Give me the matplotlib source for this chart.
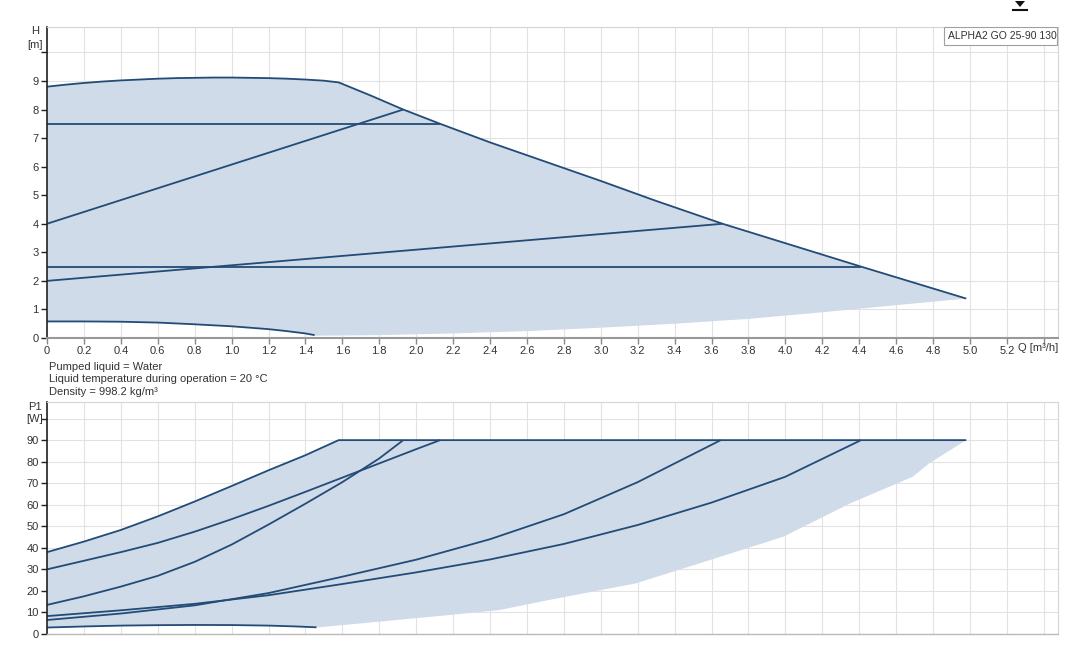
import matplotlib
matplotlib.use("Agg")
import matplotlib.pyplot as plt
from matplotlib.patches import Rectangle, Polygon
from matplotlib.lines import Line2D
import numpy as np

plt.rcParams['font.family'] = ['Liberation Sans', 'DejaVu Sans']

# ---- H [m] vs Q [m3/h] ----
q_hmax = [0, 0.1, 0.2, 0.3, 0.4, 0.5, 0.6, 0.7, 0.8, 0.9, 1.0, 1.1, 1.2, 1.3, 1.4, 1.5, 1.58,
          1.75, 1.93, 2.13, 2.4, 2.6, 2.8, 3.0, 3.3, 3.66, 4.0, 4.41, 4.7, 4.98]
h_max = [8.8, 8.87, 8.93, 8.98, 9.02, 9.05, 9.08, 9.1, 9.11, 9.12, 9.12, 9.11, 9.1, 9.08, 9.05,
         9.01, 8.95, 8.5, 8.0, 7.5, 6.85, 6.4, 5.95, 5.5, 4.8, 4.0, 3.32, 2.5, 1.93, 1.38]
q_hmin = [0, 0.2, 0.4, 0.6, 0.8, 1.0, 1.1, 1.2, 1.3, 1.4, 1.45]
h_min = [0.58, 0.58, 0.57, 0.54, 0.48, 0.41, 0.36, 0.31, 0.24, 0.16, 0.1]
q_hlow = [1.45, 1.8, 2.2, 2.6, 3.0, 3.4, 3.8, 4.2, 4.6, 4.98]
h_low = [0.08, 0.1, 0.16, 0.24, 0.36, 0.5, 0.67, 0.9, 1.15, 1.38]

q_cp75 = [0, 2.13]
h_cp75 = [7.5, 7.5]
q_pp4 = [0, 1.93]
h_pp4 = [4.0, 8.0]
q_pp2 = [0, 3.66]
h_pp2 = [2.0, 4.0]
q_cp25 = [0, 4.41]
h_cp25 = [2.5, 2.5]

# ---- P1 [W] vs Q ----
q_pmax = [0, 0.2, 0.4, 0.6, 0.8, 1.0, 1.2, 1.4, 1.58, 4.98]
p_max = [38, 42.9, 48.3, 54.6, 61.5, 68.7, 76, 83, 90, 90]
q_p75 = [0, 0.2, 0.4, 0.6, 0.8, 1.0, 1.2, 1.4, 1.6, 1.8, 2.0, 2.13]
p_p75 = [30, 34, 38, 42.3, 47.5, 53.3, 59.5, 66, 72.6, 79.2, 85.8, 90]
q_p4 = [0, 0.2, 0.4, 0.6, 0.8, 1.0, 1.2, 1.4, 1.6, 1.8, 1.93]
p_p4 = [13.5, 17.5, 22, 27, 33.5, 41.5, 50.8, 60.5, 70.5, 81.5, 90]
q_p25 = [0, 0.4, 0.8, 1.2, 1.6, 2.0, 2.4, 2.8, 3.2, 3.6, 4.0, 4.41]
p_p25 = [8.3, 11, 14, 18, 23.2, 28.6, 34.6, 41.8, 50.6, 61, 73, 90]
q_p2 = [0, 0.4, 0.8, 1.2, 1.6, 2.0, 2.4, 2.8, 3.2, 3.65]
p_p2 = [6.5, 9.5, 13.3, 19, 26.6, 34.5, 44, 55.6, 70.5, 90]
q_pmin = [0, 0.2, 0.4, 0.6, 0.8, 1.0, 1.2, 1.35, 1.46]
p_min = [3.0, 3.5, 3.9, 4.1, 4.2, 4.15, 3.9, 3.5, 3.1]
q_plow = [1.46, 2.18, 2.45, 2.72, 3.19, 3.59, 3.99, 4.35, 4.69, 4.78, 4.98]
p_low = [3.0, 8.8, 11.1, 15.8, 23.5, 34.3, 45.2, 60.6, 73, 79.3, 90]

q_ticks = np.arange(0, 5.41, 0.2)
q_labels = ['0' if i == 0 else '%.1f' % t for i, t in enumerate(q_ticks)]
q_labels[-1] = ''

line_c = '#234b77'
fill_c = '#cfdbe8'
grid_c = '#e2e2e2'
text_c = '#333333'

W, H = 1083, 653
fig = plt.figure(figsize=(W / 100, H / 100), dpi=100)
ax1 = fig.add_axes([47 / W, 1 - 338 / H, 1011 / W, 311 / H])
ax2 = fig.add_axes([47 / W, 1 - 634 / H, 1011 / W, 232 / H])


def style(ax, ymax, yticks):
    ax.set_xlim(0, 5.477)
    ax.set_ylim(0, ymax)
    ax.set_xticks(q_ticks)
    ax.set_yticks(yticks)
    ax.grid(True, color=grid_c, lw=0.8)
    ax.set_axisbelow(True)
    for s in ['top', 'right']:
        ax.spines[s].set_color('#d5d5d5')
        ax.spines[s].set_linewidth(0.8)
    ax.spines['left'].set_color('#222222')
    ax.spines['left'].set_linewidth(1.2)
    ax.tick_params(axis='y', length=4, width=1, color='#222222', labelsize=8, labelcolor=text_c, pad=2)
    ax.tick_params(axis='x', length=4, width=1, color='#888888', labelsize=8, labelcolor=text_c, pad=2)


# top chart
style(ax1, 10.89, range(0, 11))
ax1.spines['bottom'].set_color('#999999')
ax1.spines['bottom'].set_linewidth(1.5)
ax1.set_xticklabels(q_labels)
ax1.set_yticklabels([str(v) for v in range(10)] + [''])
ax1.fill(list(q_hmax) + q_hlow[::-1] + q_hmin[::-1], list(h_max) + h_low[::-1] + h_min[::-1],
         color=fill_c, lw=0)
for qq, hh in [(q_hmax, h_max), (q_hmin, h_min), (q_cp75, h_cp75), (q_pp4, h_pp4),
               (q_pp2, h_pp2), (q_cp25, h_cp25)]:
    ax1.plot(qq, hh, color=line_c, lw=1.3, solid_capstyle='butt')
ax1.text(5.26, -0.36, 'Q [m³/h]', ha='left', va='center', fontsize=8, color=text_c)
ax1.text(-0.0119, 10.75, 'H', transform=ax1.get_yaxis_transform(), ha='center', va='center',
         fontsize=8, color=text_c)
ax1.text(-0.0119, 10.26, '[m]', transform=ax1.get_yaxis_transform(), ha='center', va='center',
         fontsize=8, color=text_c)
ax1.add_patch(Rectangle((0.8872, 0.942), 0.1118, 0.058, transform=ax1.transAxes,
                        fc='white', ec='#a0a0a0', lw=0.8, zorder=5))
ax1.text(0.891, 0.971, 'ALPHA2 GO 25-90 130', transform=ax1.transAxes, ha='left', va='center',
         fontsize=7.5, color=text_c, zorder=6)

# bottom chart
style(ax2, 107.7, range(0, 101, 10))
ax2.spines['bottom'].set_color('#bbbbbb')
ax2.spines['bottom'].set_linewidth(1.0)
ax2.tick_params(axis='x', length=0, labelbottom=False)
ax2.set_yticklabels([str(v) for v in range(0, 100, 10)] + [''])
ax2.fill(list(q_pmax) + q_plow[::-1] + q_pmin[::-1], list(p_max) + p_low[::-1] + p_min[::-1],
         color=fill_c, lw=0)
for qq, pp in [(q_pmax, p_max), (q_pmin, p_min), (q_p75, p_p75), (q_p4, p_p4),
               (q_p25, p_p25), (q_p2, p_p2)]:
    ax2.plot(qq, pp, color=line_c, lw=1.3, solid_capstyle='butt')
ax2.text(-0.0119, 105.3, 'P1', transform=ax2.get_yaxis_transform(), ha='center', va='center',
         fontsize=8, color=text_c)
ax2.text(-0.0119, 99.8, '[W]', transform=ax2.get_yaxis_transform(), ha='center', va='center',
         fontsize=8, color=text_c)

# notes between charts
for i, s in enumerate(['Pumped liquid = Water',
                       'Liquid temperature during operation = 20 °C',
                       'Density = 998.2 kg/m³']):
    fig.text(49 / W, 1 - (367 + i * 12.5) / H, s, ha='left', va='center', fontsize=8, color=text_c)

# download icon
fig.add_artist(Polygon([[1015 / W, 1 - 1 / H], [1025 / W, 1 - 1 / H], [1020 / W, 1 - 7 / H]],
                       closed=True, transform=fig.transFigure, fc='#111111', ec='none'))
fig.add_artist(Line2D([1013 / W, 1027 / W], [1 - 10 / H, 1 - 10 / H], transform=fig.transFigure,
                      color='#111111', lw=1.5))

fig.savefig('out.png', dpi=100)
